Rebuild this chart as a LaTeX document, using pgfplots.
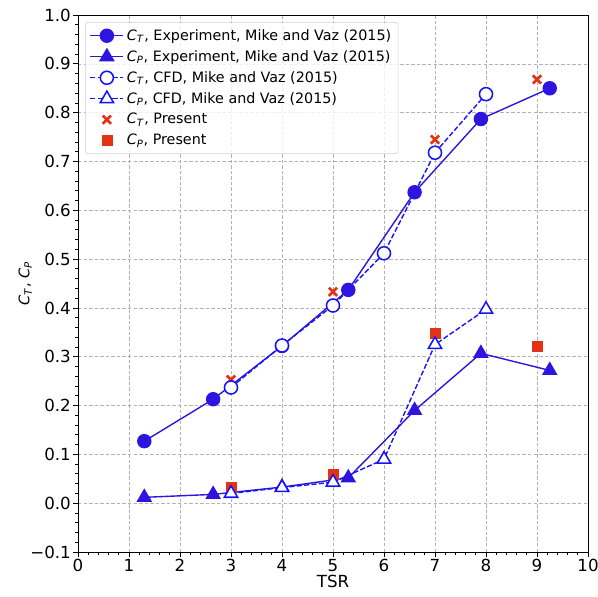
\documentclass[border=0pt]{standalone}
\usepackage{fontspec}
\setmainfont{DejaVu Sans}
\usepackage{pgfplots}
\pgfplotsset{compat=1.18}
\definecolor{expblue}{RGB}{45,20,225}
\definecolor{cfdblue}{RGB}{20,20,250}
\definecolor{presred}{RGB}{230,50,20}
\newcommand{\CT}{\textit{C}\textsubscript{\textit{T}}}
\newcommand{\CP}{\textit{C}\textsubscript{\textit{P}}}
\begin{document}
\begin{tikzpicture}
\useasboundingbox (-56.16pt,-31.68pt) rectangle (374.4pt,397.44pt);
\begin{axis}[
  scale only axis,
  width=367.2pt, height=386.6pt,
  xmin=0, xmax=10, ymin=-0.1, ymax=1.0,
  xtick={0,1,...,10},
  xticklabels={0,1,2,3,4,5,6,7,8,9,10},
  ytick={-0.1,0,0.1,0.2,0.3,0.4,0.5,0.6,0.7,0.8,0.9,1.0},
  yticklabels={−0.1,0.0,0.1,0.2,0.3,0.4,0.5,0.6,0.7,0.8,0.9,1.0},
  tick label style={font=\fontsize{12}{14}\selectfont},
  xticklabel style={inner sep=1.5pt},
  yticklabel style={inner sep=1.5pt},
  minor x tick num=4, minor y tick num=4,
  tick align=outside,
  xtick pos=bottom, ytick pos=left,
  major tick length=3.5pt, minor tick length=2pt,
  tick style={black, line width=0.6pt},
  axis line style={line width=0.6pt},
  grid=major,
  major grid style={gray!60, dash pattern=on 2.5pt off 1.5pt, line width=0.5pt},
  every axis x label/.style={at={(axis description cs:0.5,0)}, anchor=center, yshift=-21pt, font=\fontsize{12}{14}\selectfont},
  every axis y label/.style={at={(axis description cs:-0.1035,0.5)}, rotate=90, anchor=center, font=\fontsize{10.5}{12}\selectfont},
  xlabel={TSR},
  ylabel={\CT, \CP},
  legend cell align=left,
  legend style={at={(axis description cs:0.014,0.987)}, anchor=north west,
    draw=gray!35, rounded corners=2pt, fill=white, fill opacity=0.8, draw opacity=1, text opacity=1,
    font=\fontsize{10.3}{12}\selectfont, row sep=1.8pt, inner sep=3pt},
  legend image code/.code={\draw[fill opacity=1, draw opacity=1, mark repeat=2,mark phase=2] plot coordinates {(0cm,0cm) (0.42cm,0cm) (0.84cm,0cm)};},
]
% Present (drawn first, beneath others)
\addplot[only marks, mark=x, mark size=4.2pt, presred, line width=1.9pt, forget plot] coordinates {
  (3,0.253) (5,0.433) (7,0.745) (9,0.868)};
\addplot[only marks, mark=square*, mark size=3.6pt, presred, forget plot] coordinates {
  (3,0.032) (5,0.060) (7,0.348) (9,0.322)};
% Experiment
\addplot[expblue, line width=1pt, mark=*, mark size=4.7pt, mark options={solid, fill=expblue, draw=expblue}] coordinates {
  (1.3,0.127) (2.65,0.213) (4.0,0.322) (5.3,0.437) (6.6,0.637) (7.9,0.787) (9.25,0.850)};
\addlegendentry{\CT, Experiment, Mike and Vaz (2015)}
\addplot[expblue, line width=1pt, mark=triangle*, mark size=5.5pt, mark options={solid, fill=expblue, draw=expblue}] coordinates {
  (1.3,0.012) (2.65,0.018) (4.0,0.033) (5.3,0.052) (6.6,0.190) (7.9,0.307) (9.25,0.272)};
\addlegendentry{\CP, Experiment, Mike and Vaz (2015)}
% CFD
\addplot[cfdblue, line width=1pt, dash pattern=on 3.7pt off 1.6pt, mark=*, mark size=4.7pt, mark options={solid, fill=white, draw=cfdblue, line width=1.1pt}] coordinates {
  (3,0.237) (4,0.323) (5,0.405) (6,0.512) (7,0.718) (8,0.838)};
\addlegendentry{\CT, CFD, Mike and Vaz (2015)}
\addplot[cfdblue, line width=1pt, dash pattern=on 3.7pt off 1.6pt, mark=triangle*, mark size=5.5pt, mark options={solid, fill=white, draw=cfdblue, line width=1.1pt}] coordinates {
  (3,0.020) (4,0.032) (5,0.043) (6,0.090) (7,0.325) (8,0.397)};
\addlegendentry{\CP, CFD, Mike and Vaz (2015)}
\addlegendimage{only marks, mark=x, mark size=4.2pt, presred, line width=1.9pt}
\addlegendentry{\CT, Present}
\addlegendimage{only marks, mark=square*, mark size=3.6pt, presred}
\addlegendentry{\CP, Present}
\end{axis}
\end{tikzpicture}
\end{document}
